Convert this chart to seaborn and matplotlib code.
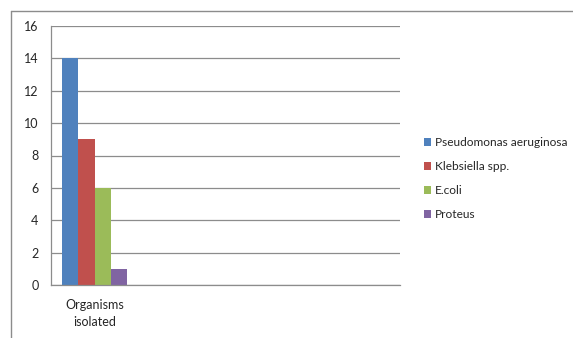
import numpy as np
import pandas as pd
import matplotlib
matplotlib.use('Agg')
import matplotlib.pyplot as plt
from matplotlib.lines import Line2D
import seaborn as sns

categories = ["Organisms isolated", " ", "  ", "   "]
organisms = ["Pseudomonas aeruginosa", "Klebsiella spp.", "E.coli", "Proteus"]
counts = [14, 9, 6, 1]
colors = ["#4F81BD", "#C0504D", "#9BBB59", "#8064A2"]

df = pd.DataFrame({"category": ["Organisms isolated"] * len(organisms),
                   "organism": organisms,
                   "count": counts})

sns.set_theme(style="white")
plt.rcParams['font.family'] = ['Lato', 'DejaVu Sans']

fig = plt.figure(figsize=(5.73, 3.38), dpi=100)
ax = fig.add_axes([51/573, 53/338, 349/573, 259/338])

sns.barplot(data=df, x="category", y="count", hue="organism", order=categories,
            hue_order=organisms, palette=colors, width=0.74, saturation=1,
            ax=ax, linewidth=0)

ax.set_xlim(-0.5, 3.5)
ax.set_ylim(0, 16)
ax.set_yticks(np.arange(0, 17, 2))
ax.yaxis.grid(True, color="#8c8c8c", linewidth=0.9)
ax.set_axisbelow(True)
ax.set_xlabel("")
ax.set_ylabel("")

# category labels without ticks, boundaries as minor ticks
ax.set_xticks(range(len(categories)))
ax.set_xticklabels(["Organisms\nisolated", "", "", ""], fontsize=9, linespacing=1.5)
ax.tick_params(axis="x", which="major", length=0, pad=10)
ax.set_xticks(np.arange(-0.5, 4, 1), minor=True)
ax.tick_params(axis="x", which="minor", length=4, width=0.9, color="#8c8c8c", direction="out")
ax.tick_params(axis="y", length=4, width=0.9, color="#8c8c8c", direction="out", labelsize=9, pad=5)

for s in ["top", "right"]:
    ax.spines[s].set_visible(False)
for s in ["left", "bottom"]:
    ax.spines[s].set_color("#8c8c8c")
    ax.spines[s].set_linewidth(0.9)

leg = ax.legend(loc="upper left", bbox_to_anchor=(1.055, 0.59), frameon=False,
                fontsize=8.6, handlelength=0.6, handleheight=0.6,
                handletextpad=0.35, labelspacing=1.1, borderaxespad=0)

# outer chart border (only top and left visible in the crop)
fig.add_artist(Line2D([11/573, 11/573], [0, 1 - 11/338], color="#8c8c8c", linewidth=1))
fig.add_artist(Line2D([11/573, 1], [1 - 11/338, 1 - 11/338], color="#8c8c8c", linewidth=1))

plt.savefig("out.png", dpi=100)
